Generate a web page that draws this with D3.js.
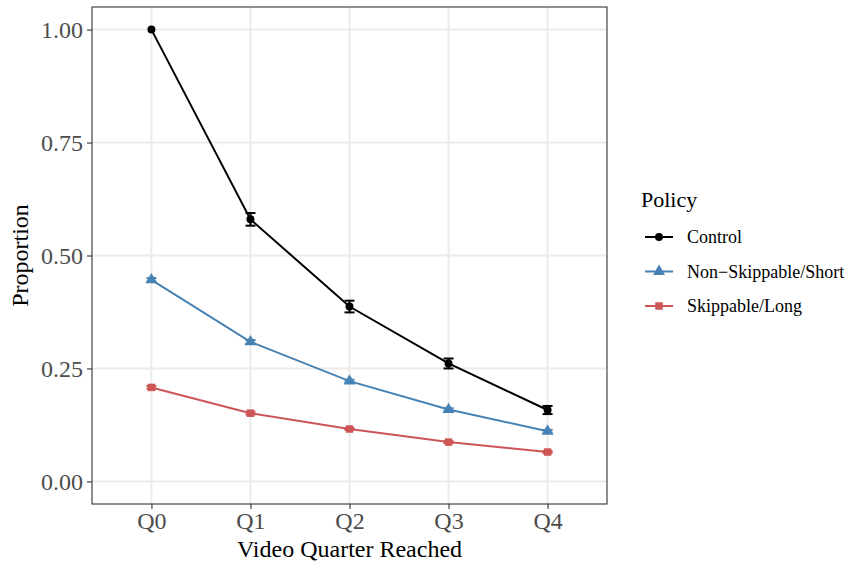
<!DOCTYPE html>
<html>
<head>
<meta charset="utf-8">
<script src="https://cdn.jsdelivr.net/npm/d3@7"></script>
<style>
  body { margin: 0; background: #fff; }
  text { font-family: "Liberation Serif", "Times New Roman", serif; }
</style>
</head>
<body>
<div id="chart"></div>
<script>
// chart values
var quarters = ["Q0", "Q1", "Q2", "Q3", "Q4"];
var controlMean = [1.000, 0.580, 0.387, 0.261, 0.158];
var controlErr  = [0.000, 0.014, 0.013, 0.011, 0.009];
var shortMean   = [0.446, 0.309, 0.222, 0.159, 0.111];
var shortErr    = [0.004, 0.004, 0.003, 0.003, 0.003];
var longMean    = [0.208, 0.151, 0.116, 0.087, 0.065];
var longErr     = [0.003, 0.003, 0.002, 0.002, 0.002];
var yTicks = [0, 0.25, 0.5, 0.75, 1.0];

var policies = [
  {name: "Control", mean: controlMean, err: controlErr, colour: "#000000", shape: d3.symbolCircle},
  {name: "Non\u2212Skippable/Short", mean: shortMean, err: shortErr, colour: "#4682B4", shape: d3.symbolTriangle},
  {name: "Skippable/Long", mean: longMean, err: longErr, colour: "#CD5555", shape: d3.symbolSquare}
];

var width = 847, height = 565;
var panel = {left: 92, right: 607, top: 7, bottom: 504};

var svg = d3.select("#chart").append("svg")
    .attr("width", width)
    .attr("height", height);

var x = d3.scalePoint()
    .domain(quarters)
    .range([panel.left, panel.right])
    .padding(0.6);

var y = d3.scaleLinear()
    .domain([-0.05, 1.05])
    .range([panel.bottom, panel.top]);

function symSize(shape) {
  if (shape === d3.symbolTriangle) return 62;
  if (shape === d3.symbolSquare) return 56;
  return 50;
}

// grid
var grid = svg.append("g");
grid.selectAll("line.h").data(yTicks).enter().append("line")
    .attr("x1", panel.left).attr("x2", panel.right)
    .attr("y1", function(d) { return y(d); })
    .attr("y2", function(d) { return y(d); })
    .attr("stroke", "#ebebeb").attr("stroke-width", 2);
grid.selectAll("line.v").data(quarters).enter().append("line")
    .attr("y1", panel.top).attr("y2", panel.bottom)
    .attr("x1", function(d) { return x(d); })
    .attr("x2", function(d) { return x(d); })
    .attr("stroke", "#ebebeb").attr("stroke-width", 2);

// series
var line = d3.line()
    .x(function(d, i) { return x(quarters[i]); })
    .y(function(d) { return y(d); });

policies.slice().reverse().forEach(function(p) {
  var g = svg.append("g");
  g.append("path")
      .datum(p.mean)
      .attr("d", line)
      .attr("fill", "none")
      .attr("stroke", p.colour)
      .attr("stroke-width", 2);

  g.selectAll("g.err").data(p.mean).enter().append("g")
      .attr("stroke", p.colour).attr("stroke-width", 2)
      .each(function(d, i) {
        if (!(p.err[i] > 0)) return;
        var b = d3.select(this), cx = x(quarters[i]);
        var lo = y(d - p.err[i]), hi = y(d + p.err[i]);
        b.append("line").attr("x1", cx).attr("x2", cx).attr("y1", lo).attr("y2", hi);
        b.append("line").attr("x1", cx - 5).attr("x2", cx + 5).attr("y1", lo).attr("y2", lo);
        b.append("line").attr("x1", cx - 5).attr("x2", cx + 5).attr("y1", hi).attr("y2", hi);
      });

  g.selectAll("path.pt").data(p.mean).enter().append("path")
      .attr("d", d3.symbol().type(p.shape).size(symSize(p.shape)))
      .attr("transform", function(d, i) { return "translate(" + x(quarters[i]) + "," + y(d) + ")"; })
      .attr("fill", p.colour);
});

// panel border
svg.append("rect")
    .attr("x", panel.left).attr("y", panel.top)
    .attr("width", panel.right - panel.left)
    .attr("height", panel.bottom - panel.top)
    .attr("fill", "none").attr("stroke", "#333333").attr("stroke-width", 1.1);

// axes
var xAxis = svg.append("g")
    .attr("transform", "translate(0," + panel.bottom + ")")
    .call(d3.axisBottom(x).tickSize(5).tickPadding(3));
var yAxis = svg.append("g")
    .attr("transform", "translate(" + panel.left + ",0)")
    .call(d3.axisLeft(y).tickValues(yTicks).tickFormat(d3.format(".2f")).tickSize(5).tickPadding(4));
[xAxis, yAxis].forEach(function(a) {
  a.select(".domain").remove();
  a.selectAll(".tick line").attr("stroke", "#333333").attr("stroke-width", 1.1);
  a.selectAll(".tick text")
      .attr("fill", "#4d4d4d")
      .style("font-family", "'Liberation Serif', serif")
      .style("font-size", "24px");
});

svg.append("text")
    .attr("x", (panel.left + panel.right) / 2)
    .attr("y", 557)
    .attr("text-anchor", "middle")
    .style("font-size", "24px")
    .text("Video Quarter Reached");

svg.append("text")
    .attr("transform", "translate(28," + ((panel.top + panel.bottom) / 2) + ") rotate(-90)")
    .attr("text-anchor", "middle")
    .style("font-size", "24px")
    .text("Proportion");

// legend
var legend = svg.append("g").attr("transform", "translate(641,0)");
legend.append("text")
    .attr("x", 0).attr("y", 207)
    .style("font-size", "22px")
    .text("Policy");

var item = legend.selectAll("g.item").data(policies).enter().append("g")
    .attr("transform", function(d, i) { return "translate(0," + (237 + i * 34.5) + ")"; });
item.append("line")
    .attr("x1", 4).attr("x2", 32).attr("y1", 0).attr("y2", 0)
    .attr("stroke", function(d) { return d.colour; })
    .attr("stroke-width", 2);
item.append("path")
    .attr("d", function(d) { return d3.symbol().type(d.shape).size(symSize(d.shape))(); })
    .attr("transform", "translate(18,0)")
    .attr("fill", function(d) { return d.colour; });
item.append("text")
    .attr("x", 46).attr("y", 6)
    .style("font-size", "18px")
    .text(function(d) { return d.name; });
</script>
</body>
</html>
